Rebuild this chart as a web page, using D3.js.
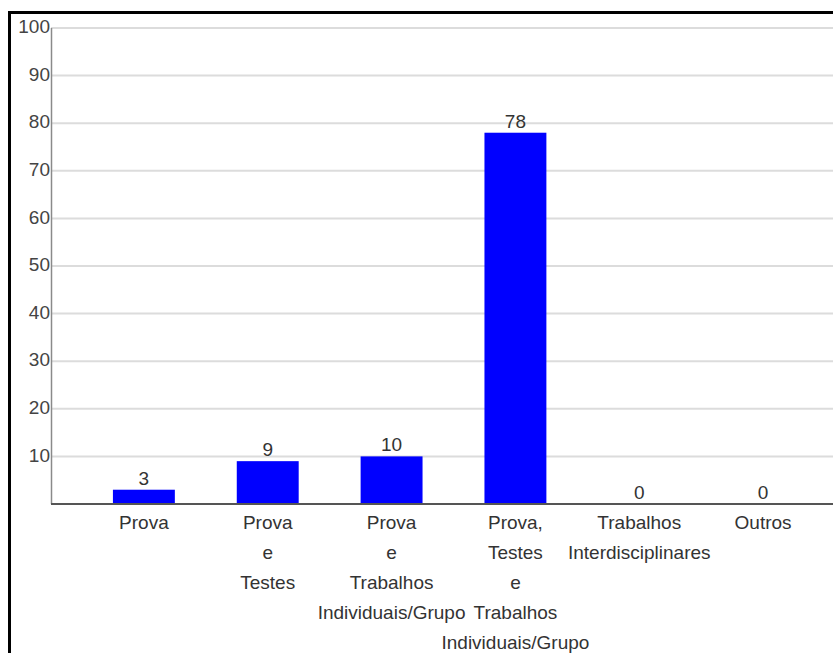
<!DOCTYPE html>
<html>
<head>
<meta charset="utf-8">
<script src="https://cdn.jsdelivr.net/npm/d3@7"></script>
<style>
  html, body { margin: 0; padding: 0; background: #fff; overflow: hidden; }
  svg { display: block; font-family: "Liberation Sans", Arial, sans-serif; }
</style>
</head>
<body>
<svg id="chart" width="833" height="653"></svg>
<script>
// Categories, each split into the lines it is written on under the axis
const categories = [
  ["Prova"],
  ["Prova", "e", "Testes"],
  ["Prova", "e", "Trabalhos", "Individuais/Grupo"],
  ["Prova,", "Testes", "e", "Trabalhos", "Individuais/Grupo"],
  ["Trabalhos", "Interdisciplinares"],
  ["Outros"]
];
const values = [3, 9, 10, 78, 0, 0];
const yTicks = [10, 20, 30, 40, 50, 60, 70, 80, 90, 100];

const svg = d3.select("#chart");
const keys = categories.map(c => c.join(" "));

const x = d3.scaleBand()
  .domain(keys)
  .range([51, 856])
  .padding(0.5);

const y = d3.scaleLinear()
  .domain([0, 100])
  .range([504, 28]);

// Outer frame (runs off the right and bottom edges)
svg.append("rect")
  .attr("x", 9.5).attr("y", 12.5)
  .attr("width", 900).attr("height", 700)
  .attr("fill", "#fff")
  .attr("stroke", "#000")
  .attr("stroke-width", 3);

// Horizontal grid lines
svg.append("g")
  .selectAll("line")
  .data(yTicks)
  .join("line")
  .attr("x1", 51).attr("x2", 840)
  .attr("y1", d => y(d)).attr("y2", d => y(d))
  .attr("stroke", "#dcdcdc")
  .attr("stroke-width", 2);

// Y axis labels
const yAxis = svg.append("g")
  .attr("transform", "translate(51,0)")
  .call(d3.axisLeft(y).tickValues(yTicks).tickSize(0).tickPadding(1));
yAxis.select(".domain").remove();
yAxis.selectAll("text")
  .attr("font-size", 19)
  .attr("fill", "#444")
  .attr("font-family", "Liberation Sans, Arial, sans-serif")
  .attr("dy", "0.25em");

// Y axis line
svg.append("line")
  .attr("x1", 51.5).attr("x2", 51.5)
  .attr("y1", y(100)).attr("y2", y(0))
  .attr("stroke", "#8a8a8a")
  .attr("stroke-width", 1.5);

// Bars
svg.append("g")
  .selectAll("rect")
  .data(values)
  .join("rect")
  .attr("x", (d, i) => x(keys[i]))
  .attr("width", x.bandwidth())
  .attr("y", d => y(d))
  .attr("height", d => y(0) - y(d))
  .attr("fill", "#0000ff");

// Baseline
svg.append("line")
  .attr("x1", 51).attr("x2", 840)
  .attr("y1", y(0)).attr("y2", y(0))
  .attr("stroke", "#555")
  .attr("stroke-width", 2);

// Value labels above the bars
svg.append("g")
  .selectAll("text")
  .data(values)
  .join("text")
  .attr("x", (d, i) => x(keys[i]) + x.bandwidth() / 2)
  .attr("y", d => y(d) - 5)
  .attr("text-anchor", "middle")
  .attr("font-size", 19)
  .attr("fill", "#333")
  .text(d => d);

// Category labels, one line per tspan
const catG = svg.append("g");
categories.forEach((lines, i) => {
  const cx = x(keys[i]) + x.bandwidth() / 2;
  const t = catG.append("text")
    .attr("text-anchor", "middle")
    .attr("font-size", 19)
    .attr("fill", "#333");
  lines.forEach((ln, j) => {
    t.append("tspan")
      .attr("x", cx)
      .attr("y", 529 + j * 30)
      .text(ln);
  });
});
</script>
</body>
</html>
